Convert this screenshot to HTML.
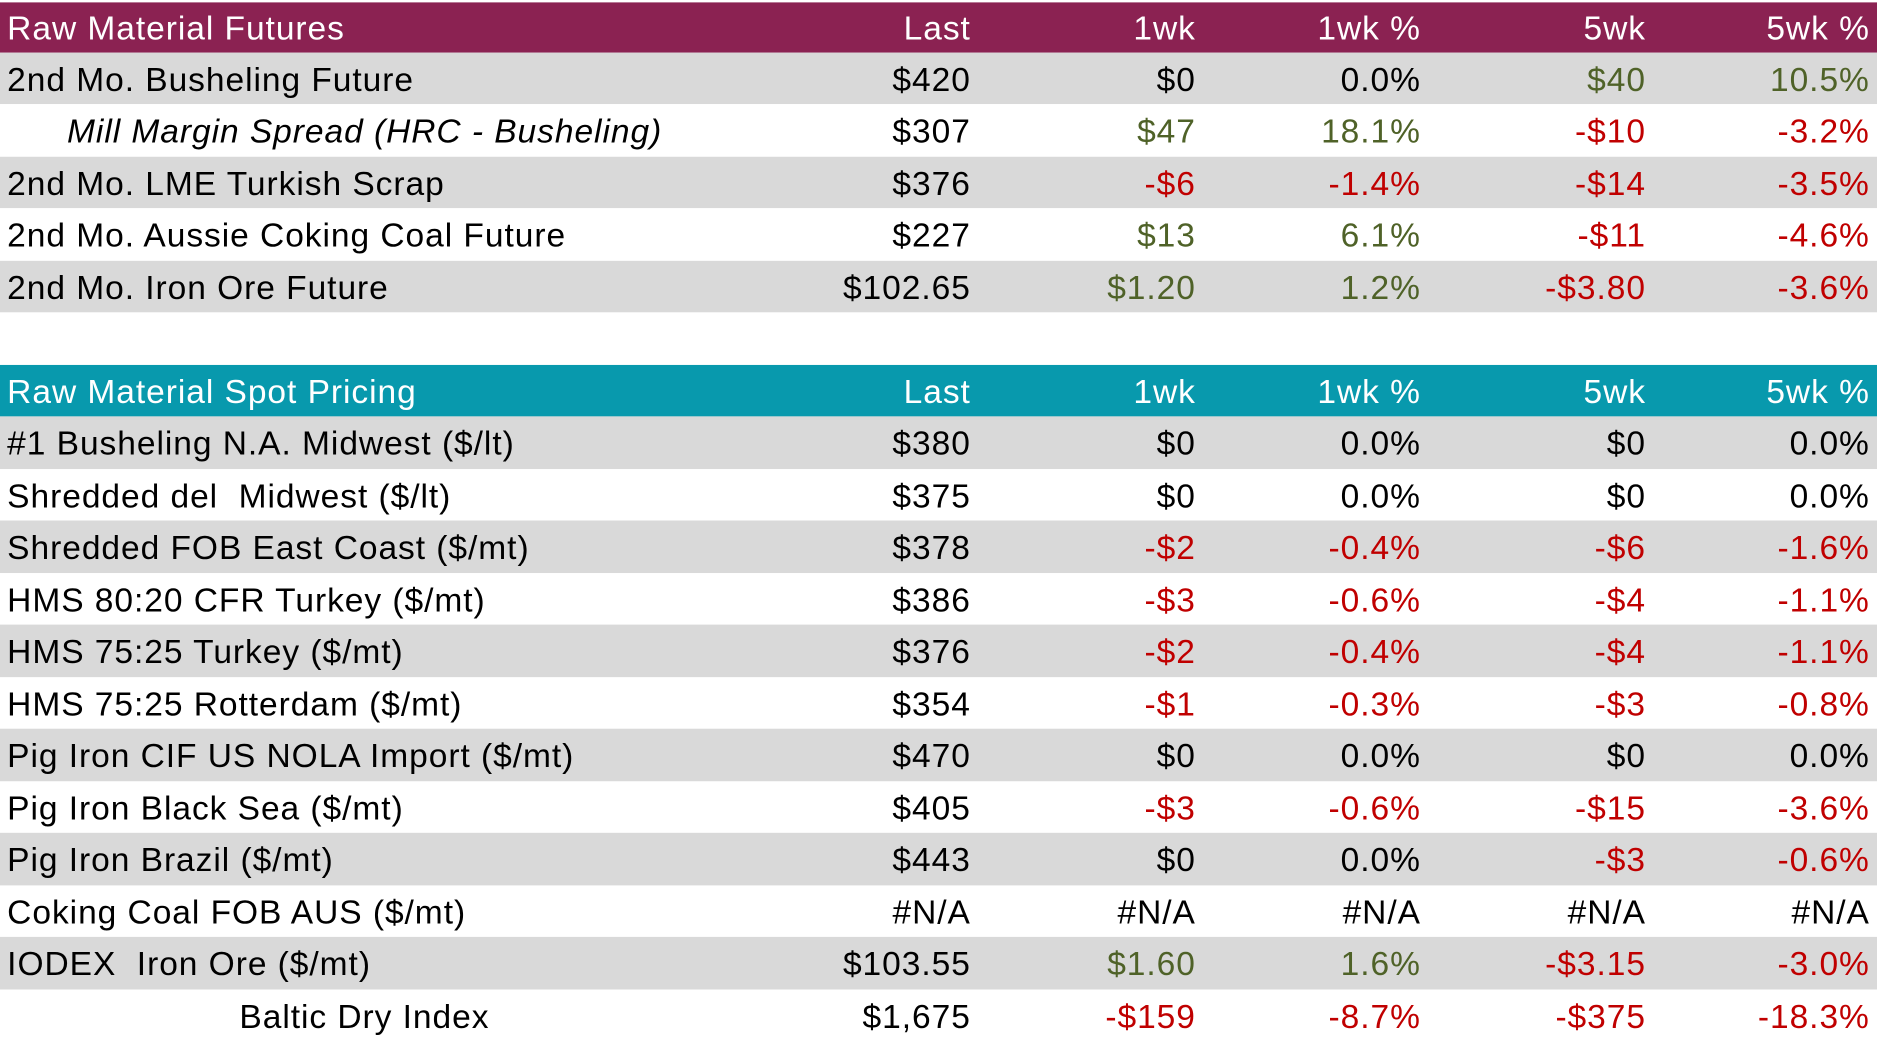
<!DOCTYPE html>
<html><head><meta charset="utf-8"><style>
html,body{margin:0;padding:0;background:#fff;overflow:hidden;width:1877px;height:1041px}
#f{position:absolute;left:0;top:0;width:1568px;height:870px;transform:scale(1.19707,1.19655);transform-origin:0 0;font-family:"Liberation Sans",sans-serif;font-size:28px;letter-spacing:0.8px}
.r{position:absolute;left:0;width:1568px;height:43.5px;line-height:46px}
.g{background:#d9d9d9}.w{background:#fff}
.hm{background:#8b2252;color:#fff}.ht{background:#0899ad;color:#fff}
.r span{position:absolute;white-space:nowrap}
.l{left:6px}
.c1,.c2,.c3,.c4,.c5{text-align:right}
.c1{right:757px}.c2{right:569px}.c3{right:381px}.c4{right:193px}.c5{right:6px}
.n{color:#c00000}.p{color:#4f6228}
</style></head><body><div id="f">
<div class="r hm" style="top:0;border-top:2px solid #fff;height:41.5px;line-height:44px"><span class="l">Raw Material Futures</span><span class="c1">Last</span><span class="c2">1wk</span><span class="c3">1wk %</span><span class="c4">5wk</span><span class="c5">5wk %</span></div>
<div class="r g" style="top:43.5px"><span class="l">2nd Mo. Busheling Future</span><span class="c1">$420</span><span class="c2">$0</span><span class="c3">0.0%</span><span class="c4 p">$40</span><span class="c5 p">10.5%</span></div>
<div class="r w" style="top:87px"><span class="l" style="left:56px;font-style:italic">Mill Margin Spread (HRC - Busheling)</span><span class="c1">$307</span><span class="c2 p">$47</span><span class="c3 p">18.1%</span><span class="c4 n">-$10</span><span class="c5 n">-3.2%</span></div>
<div class="r g" style="top:130.5px"><span class="l">2nd Mo. LME Turkish Scrap</span><span class="c1">$376</span><span class="c2 n">-$6</span><span class="c3 n">-1.4%</span><span class="c4 n">-$14</span><span class="c5 n">-3.5%</span></div>
<div class="r w" style="top:174px"><span class="l">2nd Mo. Aussie Coking Coal Future</span><span class="c1">$227</span><span class="c2 p">$13</span><span class="c3 p">6.1%</span><span class="c4 n">-$11</span><span class="c5 n">-4.6%</span></div>
<div class="r g" style="top:217.5px"><span class="l">2nd Mo. Iron Ore Future</span><span class="c1">$102.65</span><span class="c2 p">$1.20</span><span class="c3 p">1.2%</span><span class="c4 n">-$3.80</span><span class="c5 n">-3.6%</span></div>
<div class="r ht" style="top:304.5px"><span class="l">Raw Material Spot Pricing</span><span class="c1">Last</span><span class="c2">1wk</span><span class="c3">1wk %</span><span class="c4">5wk</span><span class="c5">5wk %</span></div>
<div class="r g" style="top:348px"><span class="l">#1 Busheling N.A. Midwest ($/lt)</span><span class="c1">$380</span><span class="c2">$0</span><span class="c3">0.0%</span><span class="c4">$0</span><span class="c5">0.0%</span></div>
<div class="r w" style="top:391.5px"><span class="l">Shredded del&nbsp; Midwest ($/lt)</span><span class="c1">$375</span><span class="c2">$0</span><span class="c3">0.0%</span><span class="c4">$0</span><span class="c5">0.0%</span></div>
<div class="r g" style="top:435px"><span class="l">Shredded FOB East Coast ($/mt)</span><span class="c1">$378</span><span class="c2 n">-$2</span><span class="c3 n">-0.4%</span><span class="c4 n">-$6</span><span class="c5 n">-1.6%</span></div>
<div class="r w" style="top:478.5px"><span class="l">HMS 80:20 CFR Turkey ($/mt)</span><span class="c1">$386</span><span class="c2 n">-$3</span><span class="c3 n">-0.6%</span><span class="c4 n">-$4</span><span class="c5 n">-1.1%</span></div>
<div class="r g" style="top:522px"><span class="l">HMS 75:25 Turkey ($/mt)</span><span class="c1">$376</span><span class="c2 n">-$2</span><span class="c3 n">-0.4%</span><span class="c4 n">-$4</span><span class="c5 n">-1.1%</span></div>
<div class="r w" style="top:565.5px"><span class="l">HMS 75:25 Rotterdam ($/mt)</span><span class="c1">$354</span><span class="c2 n">-$1</span><span class="c3 n">-0.3%</span><span class="c4 n">-$3</span><span class="c5 n">-0.8%</span></div>
<div class="r g" style="top:609px"><span class="l">Pig Iron CIF US NOLA Import ($/mt)</span><span class="c1">$470</span><span class="c2">$0</span><span class="c3">0.0%</span><span class="c4">$0</span><span class="c5">0.0%</span></div>
<div class="r w" style="top:652.5px"><span class="l">Pig Iron Black Sea ($/mt)</span><span class="c1">$405</span><span class="c2 n">-$3</span><span class="c3 n">-0.6%</span><span class="c4 n">-$15</span><span class="c5 n">-3.6%</span></div>
<div class="r g" style="top:696px"><span class="l">Pig Iron Brazil ($/mt)</span><span class="c1">$443</span><span class="c2">$0</span><span class="c3">0.0%</span><span class="c4 n">-$3</span><span class="c5 n">-0.6%</span></div>
<div class="r w" style="top:739.5px"><span class="l">Coking Coal FOB AUS ($/mt)</span><span class="c1">#N/A</span><span class="c2">#N/A</span><span class="c3">#N/A</span><span class="c4">#N/A</span><span class="c5">#N/A</span></div>
<div class="r g" style="top:783px"><span class="l">IODEX&nbsp; Iron Ore ($/mt)</span><span class="c1">$103.55</span><span class="c2 p">$1.60</span><span class="c3 p">1.6%</span><span class="c4 n">-$3.15</span><span class="c5 n">-3.0%</span></div>
<div class="r w" style="top:826.5px"><span class="l" style="left:200px">Baltic Dry Index</span><span class="c1">$1,675</span><span class="c2 n">-$159</span><span class="c3 n">-8.7%</span><span class="c4 n">-$375</span><span class="c5 n">-18.3%</span></div>
</div></body></html>
